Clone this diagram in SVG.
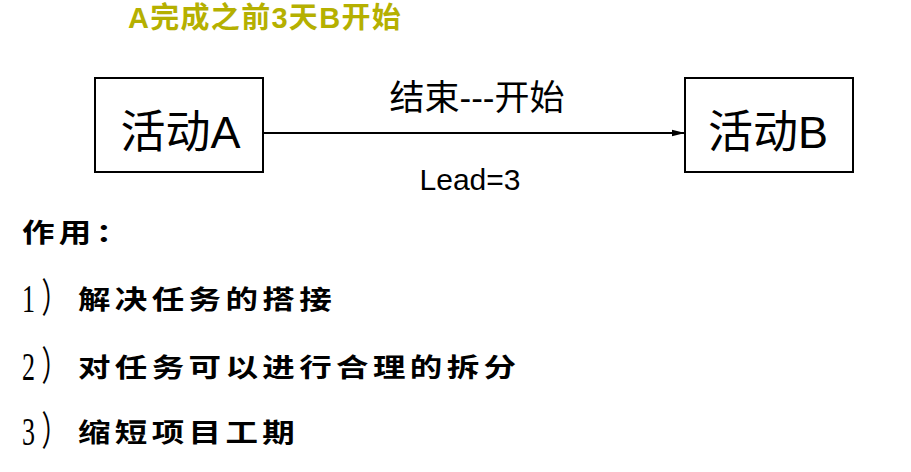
<svg xmlns="http://www.w3.org/2000/svg" width="911" height="472" viewBox="0 0 911 472">
<defs>
<marker id="arr" markerWidth="13" markerHeight="8" refX="13" refY="4" orient="auto" markerUnits="userSpaceOnUse">
<path d="M0,0.8 L13,4 L0,7.2 z" fill="#000"/>
</marker>
</defs>
<style>
.box{fill:#fff;stroke:#000;stroke-width:2}
.nl{font-family:"Liberation Sans","Noto Sans CJK SC",sans-serif;font-size:45px;fill:#000}
.lbl{font-family:"Liberation Sans","Noto Sans CJK SC",sans-serif;fill:#000}
.title{font-family:"Liberation Sans","Noto Sans CJK SC",sans-serif;font-size:29px;font-weight:bold;fill:#B5B000;letter-spacing:1.3px}
.body{font-family:"Noto Sans CJK SC",sans-serif;font-size:26px;font-weight:bold;fill:#000;letter-spacing:3.5px}
.num{font-family:"Liberation Serif","Noto Sans CJK SC",serif;font-size:40px;fill:#000}
</style>
<rect width="911" height="472" fill="#fff"/>
<text class="title" x="128" y="28">A完成之前3天B开始</text>
<g id="connectors">
<line x1="263" y1="133" x2="685" y2="133" stroke="#000" stroke-width="2" marker-end="url(#arr)"/>
<text class="lbl" x="477" y="110" font-size="35" text-anchor="middle">结束---开始</text>
<text class="lbl" x="470" y="190" font-size="30" text-anchor="middle">Lead=3</text>
</g>
<g id="nodeA">
<rect class="box" x="95" y="78" width="168" height="94"/>
<text class="nl" x="180.5" y="148" text-anchor="middle">活动A</text>
</g>
<g id="nodeB">
<rect class="box" x="685" y="78" width="168" height="94"/>
<text class="nl" x="768" y="148" text-anchor="middle">活动B</text>
</g>
<g id="notes">
<text class="body" transform="matrix(1.25,0,0,1,22,242)">作用：</text>
<text class="num" transform="matrix(0.65,0,0,1,22,312)">1<tspan dx="10">）</tspan></text>
<text class="body" transform="matrix(1.25,0,0,1,78,309)">解决任务的搭接</text>
<text class="num" transform="matrix(0.65,0,0,1,22,380)">2<tspan dx="10">）</tspan></text>
<text class="body" transform="matrix(1.25,0,0,1,78,377)">对任务可以进行合理的拆分</text>
<text class="num" transform="matrix(0.65,0,0,1,22,445)">3<tspan dx="10">）</tspan></text>
<text class="body" transform="matrix(1.25,0,0,1,78,442)">缩短项目工期</text>
</g>
</svg>
